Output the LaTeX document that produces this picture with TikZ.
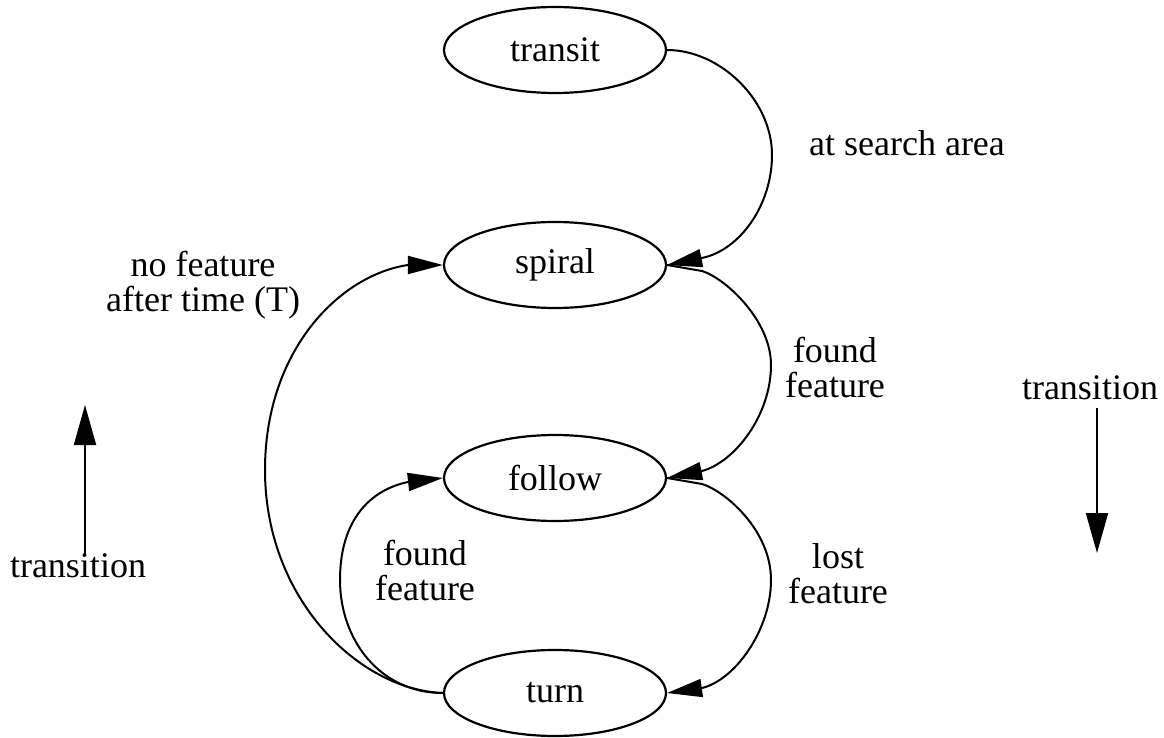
\documentclass[tikz,border=0pt]{standalone}
\usepackage{fontspec}
\setmainfont{Liberation Serif}
\usetikzlibrary{shapes.geometric,arrows.meta}
\begin{document}
\begin{tikzpicture}[x=0.5pt,y=-0.5pt,
  state/.style={ellipse,draw,line width=1.1pt,minimum width=111pt,minimum height=43pt,inner sep=0pt,font=\fontsize{18pt}{17.5pt}\selectfont},
  lbl/.style={align=center,inner sep=0pt,font=\fontsize{18pt}{17.5pt}\selectfont},
  trans/.style={line width=1pt,-{Triangle[length=17.5pt,width=9pt]}},
  legend/.style={line width=1pt,-{Triangle[length=20pt,width=11pt]}}]
\useasboundingbox (0,0) rectangle (1164,738);

% states
\node[state] (transit) at (555,50)  {transit};
\node[state] (spiral)  at (555,265) {spiral};
\node[state] (follow)  at (555,478) {follow};
\node[state] (turn)    at (555,693) {turn};

% downward transitions (right side)
\draw[trans] (transit.east) .. controls (720,50) and (772,100) .. (772,155)
  .. controls (772,205) and (740,250) .. (702,258) -- (spiral.east);
\draw[trans] (spiral.east) -- (702,271) .. controls (725,278) and (771,320) .. (771,365)
  .. controls (771,415) and (735,462) .. (702,471) -- (follow.east);
\draw[trans] (follow.east) -- (702,484) .. controls (725,491) and (771,530) .. (771,580)
  .. controls (771,630) and (735,680) .. (702,688) -- (turn.east);

% upward transitions (left side)
\draw[trans] (turn.west) .. controls (380,693) and (340,640) .. (340,580)
  .. controls (340,520) and (370,490) .. (408,482) -- (follow.west);
\draw[trans] (turn.west) .. controls (360,690) and (265,600) .. (265,470)
  .. controls (265,350) and (340,275) .. (408,265) -- (spiral.west);

% transition labels
\node[lbl] (lsearch) at (907,143) {at search area};
\node[lbl] (lfound1) at (835,368) {found\\feature};
\node[lbl] (llost)   at (838,574) {lost\\feature};
\node[lbl] (lfound2) at (425,571) {found\\feature};
\node[lbl] (lnofeat) at (203,285) {no feature\\after time (T)};

% direction legend
\node[lbl] (tup)   at (78,566)   {transition};
\node[lbl] (tdown) at (1090,388) {transition};
\coordinate (tupend)   at (85,405);
\coordinate (tdownend) at (1097,553);
\draw[legend] (tup.north -| tupend) -- (tupend);
\draw[legend] (tdown.south -| tdownend) ++(0,8) -- (tdownend);
\end{tikzpicture}
\end{document}
